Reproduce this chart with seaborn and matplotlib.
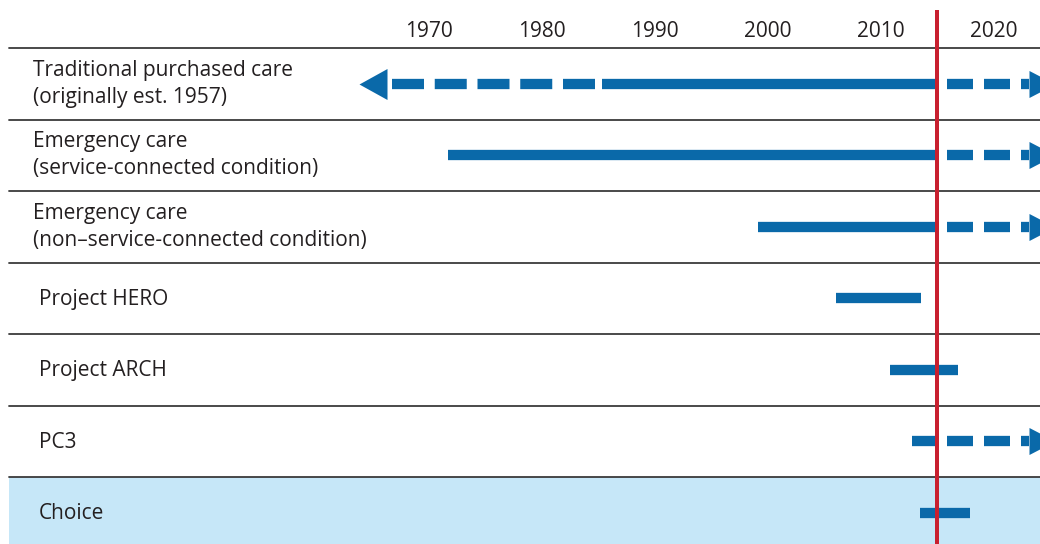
import matplotlib
matplotlib.use("Agg")
import matplotlib.pyplot as plt
import seaborn as sns
import pandas as pd

# ---------------- data ----------------
programs = [
    "Traditional purchased care\n(originally est. 1957)",
    "Emergency care\n(service-connected condition)",
    "Emergency care\n(non\u2013service-connected condition)",
    "Project HERO",
    "Project ARCH",
    "PC3",
    "Choice",
]
solid_start = [1985.3, 1971.7, 1999.1, 2006.0, 2010.8, 2012.75, 2013.45]
solid_end = [2015.0, 2015.0, 2015.0, 2013.6, 2016.8, 2015.0, 2017.9]
ongoing = [True, True, True, False, False, True, False]
history_start = [1966.75, None, None, None, None, None, None]   # dashed earlier period
history_arrow = [1965.0, None, None, None, None, None, None]     # left arrowhead centre
ongoing_end = 2023.1
tick_years = [1970, 1980, 1990, 2000, 2010, 2020]
current_year = 2015
highlight = "Choice"

# ---------------- style ----------------
BLUE = "#0a69a9"
RED = "#c8202f"
LIGHT = "#c6e7f8"
TEXT = "#231f20"
GRID = "#3a3a3a"
W, H, DPI = 1040, 544, 100
PX = 72 / DPI            # points per pixel
XMIN, XMAX = 1931.99, 2024.1
YPX = 71.5               # row height in px
HEADER = 48              # header height in px
bar_lw = 10.3 * PX

sns.set_theme(style="white")
plt.rcParams["font.family"] = ["Open Sans", "DejaVu Sans"]
plt.rcParams["lines.scale_dashes"] = False

fig = plt.figure(figsize=(W / DPI, H / DPI), dpi=DPI)
ax = fig.add_axes([0, 0, 1, 1])
ax.set_xlim(XMIN, XMAX)
y_top = -0.5 - HEADER / YPX
y_bot = (H - HEADER) / YPX - 0.5
ax.set_ylim(y_bot, y_top)
ax.axis("off")

def ypx(p):
    return (p - HEADER) / YPX - 0.5

px_per_year = W / (XMAX - XMIN)
left_frac = 9 / W

# highlighted row background
hi = programs.index(highlight)
ax.axhspan(hi - 0.5, hi + 0.5, xmin=left_frac, xmax=1, color=LIGHT, lw=0, zorder=0)

# separators
for b in range(-1, len(programs) - 1):
    ax.axhline(b + 0.5, xmin=left_frac, xmax=1, color=GRID, lw=1.3, zorder=1)

# solid segments
rows = []
for i, (s, e) in enumerate(zip(solid_start, solid_end)):
    rows += [dict(x=s, row=i, seg=i), dict(x=e, row=i, seg=i)]
solid_df = pd.DataFrame(rows)
sns.lineplot(data=solid_df, x="x", y="row", units="seg", estimator=None, sort=False,
             color=BLUE, lw=bar_lw, solid_capstyle="butt", ax=ax, zorder=3, legend=False)

# ongoing dashed segments (to the right)
rows = []
for i, on in enumerate(ongoing):
    if on:
        rows += [dict(x=current_year, row=i, seg=i), dict(x=ongoing_end, row=i, seg=i)]
ong_df = pd.DataFrame(rows)
sns.lineplot(data=ong_df, x="x", y="row", units="seg", estimator=None, sort=False,
             color=BLUE, lw=bar_lw, linestyle=(27 * PX, (26 * PX, 11 * PX)),
             dash_capstyle="butt", ax=ax, zorder=3, legend=False)

# historical dashed segments (to the left)
rows = []
for i, (hs, ss) in enumerate(zip(history_start, solid_start)):
    if hs is not None:
        rows += [dict(x=hs, row=i, seg=i), dict(x=ss, row=i, seg=i)]
hist_df = pd.DataFrame(rows)
sns.lineplot(data=hist_df, x="x", y="row", units="seg", estimator=None, sort=False,
             color=BLUE, lw=bar_lw, linestyle=(0, (32 * PX, 10.75 * PX)),
             dash_capstyle="butt", ax=ax, zorder=3, legend=False)

# arrowheads
left_head = [(14, 15.5), (-14, 0), (14, -15.5)]
right_head = [(-13, 13.5), (13, 0), (-13, -13.5)]
for i, ha in enumerate(history_arrow):
    if ha is not None:
        ax.plot([ha], [i], marker=left_head, ms=31 * PX, color=BLUE, mew=0,
                ls="none", zorder=3)
head_len_years = 26 / px_per_year
for i, on in enumerate(ongoing):
    if on:
        ax.plot([ongoing_end + head_len_years / 2], [i], marker=right_head,
                ms=27 * PX, color=BLUE, mew=0, ls="none", zorder=3, clip_on=True)

# current-year line
ax.vlines(current_year, ypx(10), y_bot, color=RED, lw=4.0 * PX, zorder=5)

# year labels
for yr in tick_years:
    ax.text(yr, ypx(36.7), str(yr), ha="center", va="baseline", fontsize=15,
            color=TEXT, zorder=6)

# row labels
for i, lab in enumerate(programs):
    indent = 33 if "\n" in lab else 39
    xlab = XMIN + indent / px_per_year
    if "\n" in lab:
        ax.text(xlab, i, lab, ha="left", va="center", fontsize=15, color=TEXT,
                linespacing=1.36, zorder=6)
    else:
        ax.text(xlab, i - 1.5 / YPX, lab, ha="left", va="center_baseline", fontsize=15,
                color=TEXT, zorder=6)

fig.savefig("out.png", dpi=DPI)
